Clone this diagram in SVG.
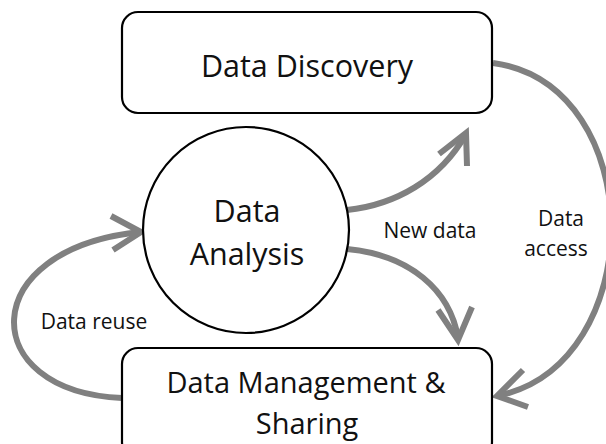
<svg xmlns="http://www.w3.org/2000/svg" width="606" height="444" viewBox="0 0 606 444">
  <style>
    .node { fill: #ffffff; stroke: #000000; stroke-width: 2.2; }
    .big { font-family: "Open Sans", "Liberation Sans", sans-serif; font-size: 30.5px; fill: #111111; text-anchor: middle; }
    .mgmt { font-size: 29px; }
    .small { font-family: "Open Sans", "Liberation Sans", sans-serif; font-size: 21px; fill: #111111; text-anchor: middle; }
    .flow { fill: none; stroke: #808080; stroke-width: 6; }
    .head { fill: none; stroke: #808080; stroke-width: 6; stroke-linejoin: miter; }
  </style>
  <rect width="606" height="444" fill="#ffffff"/>

  <g id="connectors">
    <!-- New data: analysis to discovery -->
    <path class="flow" d="M347,210 C395,205 440,180 466,134"/>
    <path class="head" d="M439,154 L466,133 L467,166"/>
    <!-- New data: analysis to management -->
    <path class="flow" d="M347,249 C410,255 450,290 458,338"/>
    <path class="head" d="M438,310 L458,340 L472,307"/>
    <!-- Data access: discovery to management -->
    <path class="flow" d="M493,63 C650,85 650,365 497,396"/>
    <path class="head" d="M523,370 L497,396 L528,407"/>
    <!-- Data reuse: management back to analysis -->
    <path class="flow" d="M122,398 C-25,392 -25,248 141,232"/>
    <path class="head" d="M111,216 L141,232 L113,250"/>
  </g>

  <g id="discovery">
    <rect class="node" x="122" y="12" width="370" height="101" rx="16"/>
    <text class="big" x="307" y="77">Data Discovery</text>
  </g>

  <g id="analysis">
    <circle class="node" cx="246" cy="230" r="103"/>
    <text class="big" x="247" y="222">Data</text>
    <text class="big" x="247" y="265">Analysis</text>
  </g>

  <g id="management">
    <rect class="node" x="122" y="348" width="370" height="110" rx="16"/>
    <text class="big mgmt" x="306" y="393">Data Management &amp;</text>
    <text class="big mgmt" x="307" y="434">Sharing</text>
  </g>

  <g id="labels">
    <text class="small" x="430" y="238">New data</text>
    <text class="small" x="561" y="226">Data</text>
    <text class="small" x="556" y="256">access</text>
    <text class="small" x="94" y="329">Data reuse</text>
  </g>
</svg>
